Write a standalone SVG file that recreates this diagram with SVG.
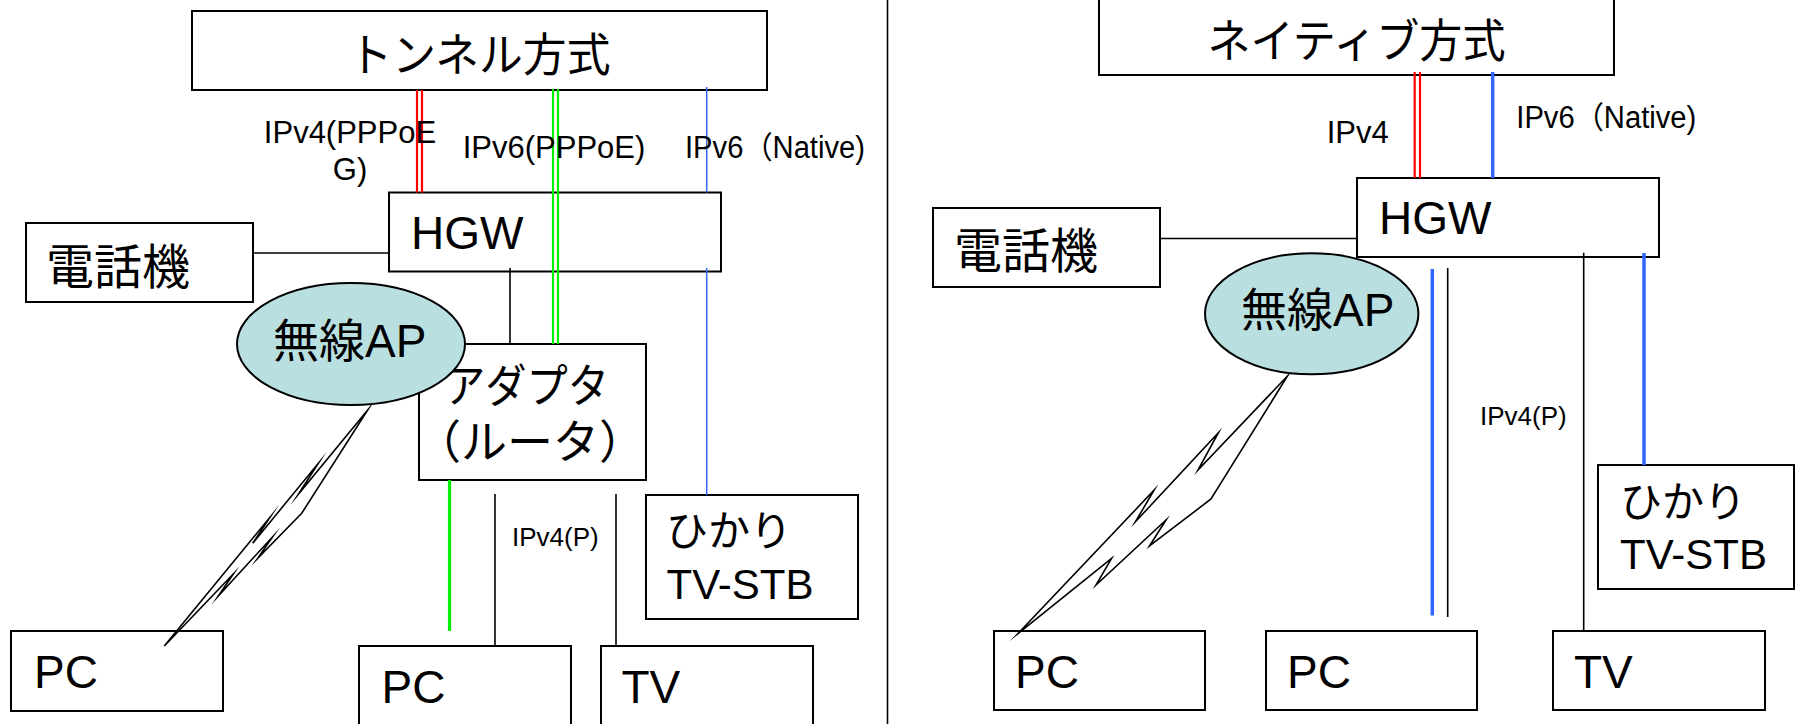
<svg xmlns="http://www.w3.org/2000/svg" width="1795" height="724" viewBox="0 0 1795 724">
<style>
  .box { fill: #ffffff; stroke: #000000; stroke-width: 2; }
  .ap { fill: #b9dfe1; stroke: #000000; stroke-width: 2; }
  .t { font-family: "Liberation Sans", "Noto Sans CJK JP", sans-serif; fill: #000000; }
  .big { font-size: 46px; }
  .tel { font-size: 48px; }
  .mid { font-size: 42px; }
  .lbl { font-size: 31px; }
  .sml { font-size: 26px; }
  .blk { stroke: #000000; stroke-width: 1.6; fill: none; }
  .red { stroke: #ff0000; stroke-width: 2.2; fill: none; }
  .grn { stroke: #00ee00; stroke-width: 2.2; fill: none; }
  .grn3 { stroke: #00ee00; stroke-width: 3.2; fill: none; }
  .blu1 { stroke: #3366ff; stroke-width: 1.5; fill: none; }
  .blu3 { stroke: #3366ff; stroke-width: 3.5; fill: none; }
  .bolt { fill: #ffffff; stroke: #000000; stroke-width: 1.6; stroke-linejoin: miter; stroke-miterlimit: 20; }
</style>
<rect x="0" y="0" width="1795" height="724" fill="#ffffff"/>
<line x1="887.5" y1="0" x2="887.5" y2="724" stroke="#000000" stroke-width="1.6"/>

<!-- Left: tunnel -->
<g id="tunnel">
  <rect class="box" x="192" y="11" width="575" height="79"/>
  <text class="t big" x="479.5" y="71" text-anchor="middle" textLength="262" lengthAdjust="spacingAndGlyphs">トンネル方式</text>
</g>
<g id="hgw-left">
  <rect class="box" x="389" y="192.5" width="332" height="79"/>
  <text class="t big" x="411" y="249">HGW</text>
</g>
<g id="phone-left">
  <rect class="box" x="26" y="223" width="227" height="79"/>
  <text class="t tel" x="46" y="284">電話機</text>
</g>
<g id="adapter">
  <rect class="box" x="419" y="344" width="227" height="136"/>
  <text class="t big" x="444" y="402" textLength="165" lengthAdjust="spacingAndGlyphs">アダプタ</text>
  <text class="t big" x="415" y="458">（ルータ）</text>
</g>
<g id="stb-left">
  <rect class="box" x="646" y="495" width="212" height="124"/>
  <text class="t mid" x="666" y="546">ひかり</text>
  <text class="t mid" x="666.5" y="598.5">TV-STB</text>
</g>
<g id="pc-left1">
  <rect class="box" x="11" y="631" width="212" height="80"/>
  <text class="t big" x="34" y="688">PC</text>
</g>
<g id="pc-left2">
  <rect class="box" x="359" y="646" width="212" height="90"/>
  <text class="t big" x="381.5" y="703">PC</text>
</g>
<g id="tv-left">
  <rect class="box" x="601" y="646" width="212" height="90"/>
  <text class="t big" x="621.5" y="703">TV</text>
</g>

<!-- Right: native -->
<g id="native">
  <rect class="box" x="1099" y="-10" width="515" height="85"/>
  <text class="t big" x="1356.5" y="57" text-anchor="middle" textLength="298" lengthAdjust="spacingAndGlyphs">ネイティブ方式</text>
</g>
<g id="hgw-right">
  <rect class="box" x="1357" y="178" width="302" height="79"/>
  <text class="t big" x="1379" y="234">HGW</text>
</g>
<g id="phone-right">
  <rect class="box" x="933" y="208" width="227" height="79"/>
  <text class="t tel" x="954" y="268">電話機</text>
</g>
<g id="stb-right">
  <rect class="box" x="1598" y="465" width="196" height="124"/>
  <text class="t mid" x="1620" y="517">ひかり</text>
  <text class="t mid" x="1620" y="568.5">TV-STB</text>
</g>
<g id="pc-right1">
  <rect class="box" x="994" y="631" width="211" height="79"/>
  <text class="t big" x="1015" y="688">PC</text>
</g>
<g id="pc-right2">
  <rect class="box" x="1266" y="631" width="211" height="79"/>
  <text class="t big" x="1287" y="688">PC</text>
</g>
<g id="tv-right">
  <rect class="box" x="1553" y="631" width="212" height="79"/>
  <text class="t big" x="1574" y="688">TV</text>
</g>

<!-- Connectors -->
<g id="connectors">
  <!-- left -->
  <line class="red" x1="417" y1="90" x2="417" y2="192.5"/>
  <line class="red" x1="422" y1="90" x2="422" y2="192.5"/>
  <line class="grn" x1="553" y1="89" x2="553" y2="344"/>
  <line class="grn" x1="558" y1="89" x2="558" y2="344"/>
  <line class="blu1" x1="706.7" y1="87" x2="706.7" y2="192.5"/>
  <line class="blu1" x1="706.7" y1="268" x2="706.7" y2="495"/>
  <line class="blk" x1="253" y1="253" x2="389" y2="253" stroke-width="2"/>
  <line class="blk" x1="510" y1="268" x2="510" y2="344"/>
  <line class="grn3" x1="449.5" y1="480" x2="449.5" y2="631"/>
  <line class="blk" x1="495" y1="494" x2="495" y2="646"/>
  <line class="blk" x1="616" y1="494" x2="616" y2="646"/>
  <polygon class="bolt" points="367.7,410 298.3,494.3 318.3,463.3 252.7,543.3 270,517.3 164.3,646 233.3,574 218.3,596 272.7,536.7 257.7,558.3 301.7,513.3"/>
  <text class="t lbl" x="350" y="142.7" text-anchor="middle">IPv4(PPPoE</text>
  <text class="t lbl" x="350" y="180" text-anchor="middle">G)</text>
  <text class="t lbl" x="462.7" y="158">IPv6(PPPoE)</text>
  <text class="t lbl" x="685" y="158" textLength="180" lengthAdjust="spacingAndGlyphs">IPv6（Native)</text>
  <text class="t sml" x="512" y="546">IPv4(P)</text>
  <!-- right -->
  <line class="red" x1="1414.7" y1="72" x2="1414.7" y2="178"/>
  <line class="red" x1="1420" y1="72" x2="1420" y2="178"/>
  <line class="blu3" x1="1492.7" y1="72" x2="1492.7" y2="178"/>
  <line class="blk" x1="1160" y1="238.5" x2="1357" y2="238.5" stroke-width="2"/>
  <line class="blu3" x1="1432.3" y1="269" x2="1432.3" y2="615.5"/>
  <line class="blk" x1="1447.7" y1="268" x2="1447.7" y2="617"/>
  <line class="blk" x1="1583.7" y1="252.7" x2="1583.7" y2="631"/>
  <line class="blu3" x1="1644" y1="253" x2="1644" y2="465"/>
  <polygon class="bolt" points="1287.5,376 1198,470 1218.4,432.7 1135.5,521.7 1154.2,490 1018.3,633.3 1111.6,558.3 1096,585 1166,520 1149.5,546 1211,499"/>
  <text class="t lbl" x="1326.7" y="142.7">IPv4</text>
  <text class="t lbl" x="1516.3" y="128" textLength="180" lengthAdjust="spacingAndGlyphs">IPv6（Native)</text>
  <text class="t sml" x="1480" y="425">IPv4(P)</text>
</g>

<!-- AP nodes on top -->
<g id="ap-left">
  <ellipse class="ap" cx="351" cy="344" rx="114" ry="61"/>
  <text class="t big" x="273" y="357">無線AP</text>
</g>
<g id="ap-right">
  <ellipse class="ap" cx="1311.7" cy="313.8" rx="106.7" ry="60.5"/>
  <text class="t big" x="1241" y="326">無線AP</text>
</g>
</svg>
